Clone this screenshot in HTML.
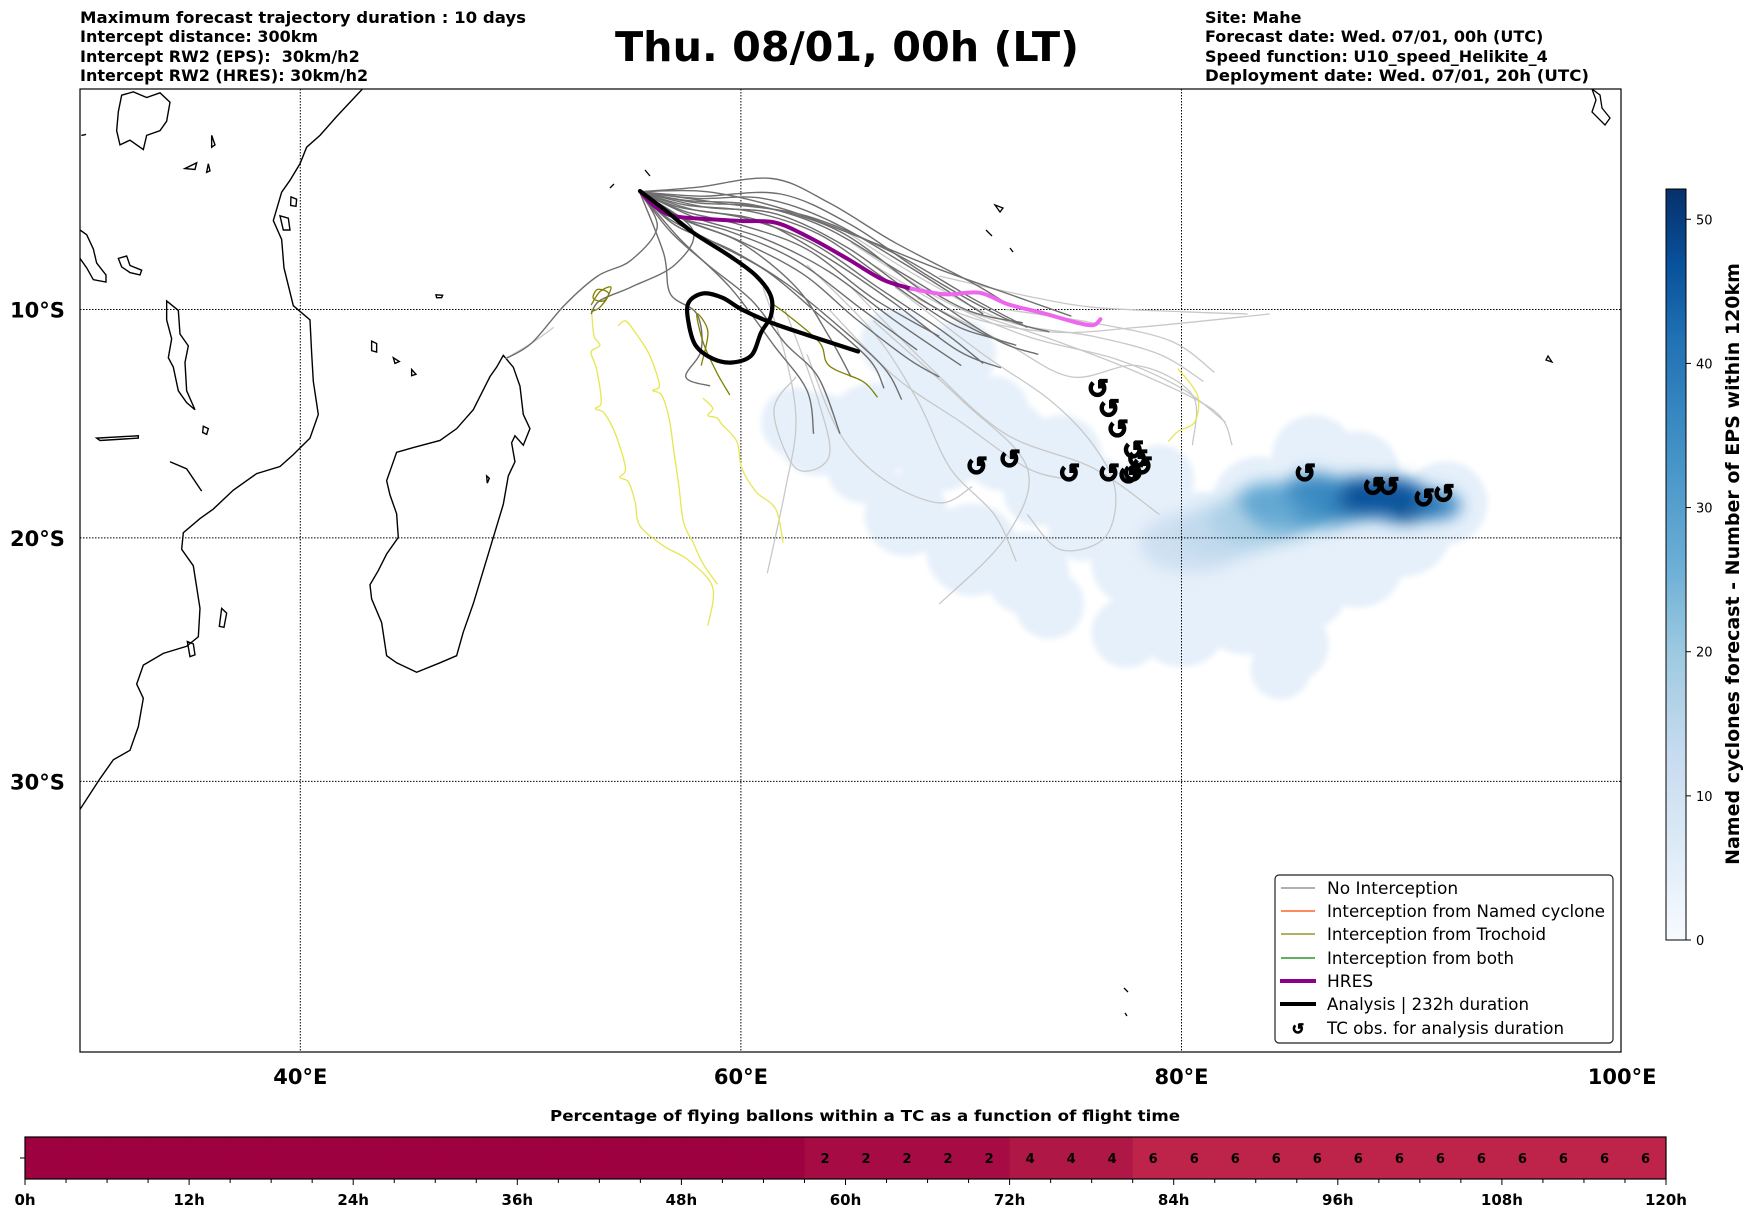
<!DOCTYPE html>
<html><head><meta charset="utf-8"><style>
html,body{margin:0;padding:0;background:#fff;}
svg{display:block;font-family:"DejaVu Sans","Liberation Sans",sans-serif;}
</style></head><body>
<svg id="fig" width="1752" height="1213" viewBox="0 0 1752 1213" xmlns="http://www.w3.org/2000/svg">
<defs>
<filter id="soft" x="-10%" y="-10%" width="120%" height="120%"><feGaussianBlur stdDeviation="3"/></filter>
<filter id="soft2" x="-20%" y="-20%" width="140%" height="140%"><feGaussianBlur stdDeviation="8"/></filter>
<clipPath id="mapclip"><rect x="80" y="89" width="1541" height="963"/></clipPath>
<linearGradient id="blues" x1="0" y1="1" x2="0" y2="0">
<stop offset="0" stop-color="#f7fbff"/><stop offset="0.12" stop-color="#deebf7"/><stop offset="0.25" stop-color="#c6dbef"/><stop offset="0.38" stop-color="#9ecae1"/><stop offset="0.5" stop-color="#6baed6"/><stop offset="0.65" stop-color="#4292c6"/><stop offset="0.8" stop-color="#2171b5"/><stop offset="0.9" stop-color="#08519c"/><stop offset="1" stop-color="#08306b"/>
</linearGradient>
</defs>
<g font-weight="bold" font-size="16" fill="#000">
<text x="80" y="23" textLength="446" lengthAdjust="spacingAndGlyphs">Maximum forecast trajectory duration : 10 days</text>
<text x="80" y="42">Intercept distance: 300km</text>
<text x="80" y="62" xml:space="preserve">Intercept RW2 (EPS):  30km/h2</text>
<text x="80" y="81">Intercept RW2 (HRES): 30km/h2</text>
</g>
<text x="615" y="61" font-size="41" font-weight="bold" textLength="464" lengthAdjust="spacingAndGlyphs">Thu. 08/01, 00h (LT)</text>
<g font-weight="bold" font-size="16" fill="#000">
<text x="1205" y="23">Site: Mahe</text>
<text x="1205" y="42">Forecast date: Wed. 07/01, 00h (UTC)</text>
<text x="1205" y="62">Speed function: U10_speed_Helikite_4</text>
<text x="1205" y="81" textLength="384" lengthAdjust="spacingAndGlyphs">Deployment date: Wed. 07/01, 20h (UTC)</text>
</g>

<g id="map" clip-path="url(#mapclip)">
<rect x="80" y="89" width="1541" height="963" fill="#fff"/>
<g id="heat"></g>
<g transform="translate(80,88.1) scale(0.3333,0.473)" fill="none" stroke="#000" stroke-width="1.4" vector-effect="non-scaling-stroke">
<path vector-effect="non-scaling-stroke" d="M850,0 L770,60 L720,100 L680,125 L660,160 L630,195 L605,220 L580,280 L605,320 L612,380 L640,460 L690,490 L695,560 L700,620 L715,690 L690,740 L640,775 L600,800 L530,815 L460,850 L400,890 L360,910 L310,940 L305,975 L340,1010 L360,1100 L355,1160 L320,1180 L250,1195 L190,1220 L170,1260 L190,1290 L175,1350 L150,1400 L100,1420 L60,1460 L0,1525"/>
<path vector-effect="non-scaling-stroke" d="M1270,565 L1300,590 L1320,630 L1330,690 L1350,720 L1330,755 L1305,735 L1295,750 L1305,790 L1285,820 L1270,880 L1240,950 L1210,1020 L1180,1090 L1150,1150 L1130,1200 L1080,1215 L1010,1235 L950,1215 L920,1200 L905,1130 L875,1080 L870,1050 L895,1020 L920,985 L955,950 L950,900 L930,860 L920,830 L950,770 L1000,760 L1080,745 L1130,720 L1180,680 L1230,610 L1250,590 Z"/>
<path vector-effect="non-scaling-stroke" d="M260,450 L295,470 L300,520 L325,545 L315,580 L320,640 L345,680 L320,665 L295,640 L280,590 L265,570 L275,530 L260,490 Z"/>
<path vector-effect="non-scaling-stroke" d="M0,300 L20,310 L40,340 L50,370 L78,395 L78,410 L40,405 L20,380 L0,360"/>
<path vector-effect="non-scaling-stroke" d="M125,15 L160,8 L200,20 L240,10 L270,30 L260,70 L240,90 L200,100 L190,130 L150,110 L120,120 L110,90 L115,50 Z"/>
<path vector-effect="non-scaling-stroke" d="M115,360 L140,355 L150,375 L185,385 L180,395 L150,390 L125,378 Z"/>
<path vector-effect="non-scaling-stroke" d="M50,740 L175,735 L175,740 L60,745 Z M270,790 L320,805 L365,852"/>
<path vector-effect="non-scaling-stroke" d="M315,170 L350,158 L345,172 Z M395,100 L405,120 L395,125 Z M385,160 L390,175 L380,178 Z M600,270 L625,275 L630,300 L610,300 Z M633,230 L650,235 L648,250 L632,248 Z M875,535 L890,540 L890,558 L875,555 Z M940,570 L958,578 L945,582 Z M995,595 L1008,605 L995,608 Z M425,1100 L440,1110 L432,1140 L418,1138 Z M322,1170 L340,1175 L345,1198 L330,1202 Z M370,715 L385,720 L380,732 L368,728 Z"/>
<path vector-effect="non-scaling-stroke" d="M1068,437 L1088,438 L1085,443 L1070,443 Z M4,100 L18,98 M1220,820 L1228,825 L1222,835 Z"/>
</g>
<g fill="none" stroke="#000" stroke-width="1.3">
<path d="M1592,89 L1596,100 L1592,112 L1605,125 L1610,118 L1602,108 L1600,95 Z"/>
<path d="M1548,356 L1552,362 L1546,360 Z"/>
<path d="M1124,988 L1128,992 M1125,1013 L1127,1016"/>
<path d="M995,205 L1003,208 L1000,212 Z M986,230 L992,236 M1010,248 L1013,252 M645,170 L650,176 M610,188 L614,184"/>
</g>
<g id="grid"></g>
<g id="tracks"></g>
<g id="tcobs"></g>
</g>
<rect x="80" y="89" width="1541" height="963" fill="none" stroke="#000" stroke-width="1.2"/>
<g id="axlabels" font-weight="bold" font-size="21"></g>

<g>
<rect x="1275" y="875" width="338" height="168" rx="4" fill="#fff" stroke="#222" stroke-width="1.2"/>
<g font-size="17" fill="#000">
<line x1="1281" y1="888" x2="1315" y2="888" stroke="#808080" stroke-width="1.3"/><text x="1327" y="894">No Interception</text>
<line x1="1281" y1="911" x2="1315" y2="911" stroke="#ff4500" stroke-width="1.3"/><text x="1327" y="917" textLength="278" lengthAdjust="spacingAndGlyphs">Interception from Named cyclone</text>
<line x1="1281" y1="934" x2="1315" y2="934" stroke="#808000" stroke-width="1.3"/><text x="1327" y="940" textLength="219" lengthAdjust="spacingAndGlyphs">Interception from Trochoid</text>
<line x1="1281" y1="958" x2="1315" y2="958" stroke="#008000" stroke-width="1.3"/><text x="1327" y="964" textLength="187" lengthAdjust="spacingAndGlyphs">Interception from both</text>
<line x1="1280" y1="981" x2="1316" y2="981" stroke="#8b008b" stroke-width="4"/><text x="1327" y="987">HRES</text>
<line x1="1280" y1="1004" x2="1316" y2="1004" stroke="#000" stroke-width="4"/><text x="1327" y="1010" textLength="202" lengthAdjust="spacingAndGlyphs">Analysis | 232h duration</text>
<text x="1298" y="1034" font-size="15" font-weight="bold" text-anchor="middle" stroke="#000" stroke-width="0.8">↺</text><text x="1327" y="1034" textLength="237" lengthAdjust="spacingAndGlyphs">TC obs. for analysis duration</text>
</g>
</g>

<g id="cbar">
<rect x="1666" y="189" width="20" height="751" fill="url(#blues)" stroke="#000" stroke-width="1"/>
<text transform="translate(1739,564) rotate(-90)" text-anchor="middle" font-weight="bold" font-size="19">Named cyclones forecast - Number of EPS within 120km</text>
</g>

<g id="pbar">
<text x="865" y="1121" text-anchor="middle" font-weight="bold" font-size="15.5" textLength="630" lengthAdjust="spacingAndGlyphs">Percentage of flying ballons within a TC as a function of flight time</text>
</g>

<script>
// ---------- data ----------
const lonTicks = [40, 60, 80, 100];
const latTicks = [10, 20, 30];
const cbarTicks = [0, 10, 20, 30, 40, 50];
const cbarMax = 52.1;
// TC observation positions (lon E, lat S)
const tcLon = [76.2, 76.7, 77.1, 77.8, 78.0, 78.2, 77.8, 77.6, 76.7, 74.9, 72.2, 70.7, 85.6, 88.7, 89.4, 91.0, 91.9];
const tcLat = [13.5, 14.4, 15.3, 16.2, 16.6, 16.9, 17.2, 17.3, 17.2, 17.2, 16.6, 16.9, 17.2, 17.8, 17.8, 18.3, 18.1];
// density blobs (lon, lat, radius deg)
const blobLon = [63.5,66,68.5,70,69,72,74.5,67.5,70.5,73,74,76,78,79,81,83,80,77.5,85,85.5,88,90,92,86,83.5,88,84.5,79,71.5,75.5,65.5,62.5,67,73.5];
const blobLat = [15.5,15.3,13,12,16,16,16.5,19,20.5,21.5,22.8,18.5,21,17.5,20.5,22.5,23.5,24,24.5,22,21,19.5,18.5,16.5,18.5,17.2,25.5,19.5,14.5,19.5,17,15,11.5,18];
const blobR   = [1.8,2,2,1.5,2,2,1.8,1.8,2,1.8,1.5,2,2,1.5,2.5,2.5,2,1.5,1.6,2,2,2.2,1.8,1.8,2,1.8,1.3,1.5,1.5,1.5,1.5,1.5,1.5,1.5];
const coreLon = [80.5, 82, 83.5, 85, 86.5, 88, 90, 88.5, 90.5, 84, 91.5, 86, 89.5];
const coreLat = [20.2, 19.7, 19.2, 18.8, 18.5, 18.3, 18.5, 18.2, 18.6, 18.4, 18.6, 17.9, 18.1];
const coreR   = [1.6, 1.5, 1.5, 1.4, 1.3, 1.2, 1.1, 0.9, 0.8, 1.0, 0.8, 0.9, 0.9];
const coreVal = [12, 14, 18, 26, 34, 40, 42, 48, 50, 28, 40, 36, 46];
// flight-time bar
const barHours = [0,3,6,9,12,15,18,21,24,27,30,33,36,39,42,45,48,51,54,57,60,63,66,69,72,75,78,81,84,87,90,93,96,99,102,105,108,111,114,117];
const barPct   = [0,0,0,0,0,0,0,0,0,0,0,0,0,0,0,0,0,0,0,2,2,2,2,2,4,4,4,6,6,6,6,6,6,6,6,6,6,6,6,6];
const barTickHours = [0,12,24,36,48,60,72,84,96,108,120];
// trajectories [lon, lat S]
const hresTrack = [[55.42,4.67],[56.08,5.35],[56.96,5.8],[58.72,5.95],[60.04,6.02],[61.58,6.1],[63.12,6.77],[64.88,7.75],[66.42,8.65],[67.74,9.07]];
const hresTrack2 = [[67.74,9.07],[69.28,9.32],[70.82,9.25],[72.14,9.77],[73.68,10.15],[75.22,10.58],[75.99,10.7],[76.32,10.44]];
const analysisTrack = [[55.42,4.67],[56.52,5.5],[57.84,6.55],[59.6,7.67],[60.7,8.5],[61.36,9.4],[61.36,10.29],[60.92,11.02],[60.48,12.04],[59.6,12.36],[58.72,12.19],[57.95,11.61],[57.62,10.58],[57.62,9.7],[58.28,9.28],[59.16,9.47],[60.04,10.0],[61.36,10.58],[63.12,11.17],[65.32,11.87]];
const darkTracks = [
 [[55.4,4.7],[58,4.5],[61.4,4.1],[64,5.2],[67,7],[70.5,8.8],[72,9.7]],
 [[55.4,4.7],[58,5.0],[61,5.0],[64,6],[67.5,8],[71,10.2]],
 [[55.4,4.7],[57.5,5.3],[60.5,5.6],[63.5,6.6],[66.5,8.6],[69.5,10.6],[71.5,11.3]],
 [[55.4,4.7],[57.5,5.6],[60,6.2],[63,7.3],[66,9.5],[69,11.2]],
 [[55.4,4.7],[57,5.8],[59.5,6.5],[62.5,7.8],[65.5,10],[68,11.8]],
 [[55.4,4.7],[57,6.2],[59.5,7.3],[62,8.8],[64.5,10.8],[66.5,12.6],[67.3,14]],
 [[55.4,4.7],[56.8,6.5],[58.5,8],[60.5,9.6],[62,11.5],[63.5,13],[64.5,15.5]],
 [[55.4,4.7],[58.5,4.7],[62,5.5],[65.5,6.8],[69,8.2],[73,9.6],[75,10.3]],
 [[55.4,4.7],[58,5.2],[61,5.4],[64.5,6.5],[68,9],[71.5,11.3],[73.5,12]],
 [[55.4,4.7],[57.5,6],[60,7],[62.5,9],[64,11.2],[65,13]],
 [[55.4,4.7],[58,5.9],[61,6.8],[64,8.3],[67,10.5],[70,12.5]],
 [[55.4,4.7],[59,5.2],[63,5.8],[67,7.5],[70.5,9.5],[73,10.8]],
 [[55.4,4.7],[58.2,4.9],[61.8,4.8],[65,6.2],[68.5,8.5],[72,10.4],[74,11]],
 [[55.4,4.7],[57.2,5.4],[60.2,5.9],[63.2,7],[66.2,9],[69.2,11],[71,12.4]],
 [[55.4,4.7],[56.7,5.9],[58.8,7],[61.2,8.3],[63.5,10.2],[65.8,12.2],[66.5,13.5]],
 [[55.4,4.7],[57.8,5.5],[60.8,6.0],[63.8,7.6],[66.8,9.6],[69.8,11.8],[71.8,12.6]],
 [[55.4,4.7],[58.4,5.4],[61.6,5.7],[64.8,7.2],[67.8,9.3],[70.8,11.0],[72.5,11.6]],
 [[55.4,4.7],[57.6,5.1],[60.6,5.3],[63.8,6.3],[67.2,8.3],[70.2,10.0],[72.8,10.6]],
 [[55.4,4.7],[57.3,5.9],[59.9,6.9],[62.8,8.4],[65.2,10.4],[67.6,12.2],[69,13]],
 [[55.4,4.7],[56.2,6.3],[55,7.8],[53.5,8.5],[52,9.8],[50.5,11.5],[49.3,12.2]],
 [[55.4,4.7],[56.5,7.5],[56.8,9.3],[58,10.2],[58.2,11.8],[57.5,13],[58.6,13.4]],
 [[55.4,4.7],[57.8,6.4],[57,8],[55,9],[53.6,9.6],[53.2,10.2]],
 [[55.4,4.7],[57.2,6.8],[59.5,9],[61.5,11.6],[63,13.6],[63.3,15.5]]
];
const lightTracks = [
 [[64,6],[68,8.5],[72,10.5],[76,11.2],[79,12],[81,13.2]],
 [[65,7],[69,9.5],[73,11.2],[77,12.2],[80,13.5],[82,15]],
 [[66,8],[70,10.2],[74,11],[78,10.8],[84,10.2]],
 [[63,8],[66,11],[68,14],[69.5,17],[71.5,19],[72.5,21]],
 [[61,9],[62,12],[62.5,15],[62,18],[61.2,21.5]],
 [[64,10],[67,13],[70,15],[73,17],[75,17.5]],
 [[67,9],[71,12],[74,14],[76,16],[77,18],[76.5,20],[74.5,20.5],[73,19]],
 [[62,10],[63.5,14],[64,16.5],[62.5,17],[61.5,14.5],[62.5,13]],
 [[66,10.5],[70,14],[73,17],[72,20],[69,22.8]],
 [[68,9.5],[72,11.5],[75,13],[78,12.5],[80.5,13.8],[80.5,16]],
 [[70,10],[74,11.3],[78,12.8],[81.5,14.5],[82.3,16]],
 [[65,9],[68.5,12.5],[72,15.5],[76,17],[79,19]],
 [[69,8.5],[73,9.4],[76,9.9],[80,10.1],[83,10.2]],
 [[72,10],[76,10.6],[79.5,11.4],[81.5,12.8]],
 [[63,12],[64.5,15.5],[66.5,17.5],[69,18.5],[70.5,17.8]],
 [[51.5,10.8],[50.5,11.5],[49.3,12.2]]
];
const oliveTracks = [
 [[53.2,9.8],[53.6,9.2],[54.1,9.0],[53.8,9.6],[53.3,9.5],[53.5,9.1],[54.0,9.3],[53.6,9.9],[53.2,10.1]],
 [[58.2,12.5],[58.5,11],[58.0,10.2],[58.3,11.5],[58.9,12.8],[59.5,13.8]],
 [[61.36,9.7],[62.0,10.15],[63.56,11.46],[64,12.5],[65.54,13.2],[66.2,13.9]]
];
const yellowTracks = [
 [[53.22,10.0],[53.33,11.17],[53.6,11.6],[53.2,11.9],[53.44,12.63],[53.66,14.09],[53.4,14.4],[53.8,14.6],[54.32,15.55],[54.76,17.0],[54.5,17.4],[54.9,17.6],[55.2,18.47],[55.42,19.49],[56.52,20.36],[57.62,20.95],[58.72,22.1],[58.5,23.7]],
 [[54.43,10.73],[54.76,10.51],[55.2,11.02],[55.86,12.04],[56.3,13.36],[56.0,13.6],[56.4,13.8],[56.74,14.82],[56.96,16.28],[57.18,17.74],[57.4,19.34],[57.84,20.22],[58.28,21.1],[58.94,21.97]],
 [[58.28,13.94],[58.72,14.38],[58.5,14.7],[58.9,14.8],[59.16,15.11],[59.82,15.84],[60.04,17.0],[60.7,18.03],[61.58,18.76],[61.91,20.2]],
 [[79.84,12.63],[80.72,13.8],[80.61,14.97],[79.84,15.4],[79.4,15.84]]
];

// ---------- axes ----------
const NS = 'http://www.w3.org/2000/svg';
function X(lon){ return 80 + (lon - 30) * 22.03; }
function merc(lat){ return Math.log(Math.tan(Math.PI/4 + lat*Math.PI/360)); }
function Y(latS){ return 309.5 + (merc(latS) - merc(10)) * 1262; }
function mk(tag, attrs, parent){ const e = document.createElementNS(NS, tag); for (const k in attrs) e.setAttribute(k, attrs[k]); parent.appendChild(e); return e; }
function smooth(pts){
  const p = pts.map(q => [X(q[0]), Y(q[1])]);
  let d = 'M' + p[0][0].toFixed(1) + ',' + p[0][1].toFixed(1);
  for (let i = 0; i < p.length - 1; i++){
    const p0 = p[i-1] || p[i], p1 = p[i], p2 = p[i+1], p3 = p[i+2] || p2;
    const c1 = [p1[0] + (p2[0]-p0[0])/6, p1[1] + (p2[1]-p0[1])/6];
    const c2 = [p2[0] - (p3[0]-p1[0])/6, p2[1] - (p3[1]-p1[1])/6];
    d += ' C' + c1.map(v=>v.toFixed(1)).join(',') + ' ' + c2.map(v=>v.toFixed(1)).join(',') + ' ' + p2.map(v=>v.toFixed(1)).join(',');
  }
  return d;
}
function blues(v){
  const stops = [[0,[247,251,255]],[6,[222,235,247]],[13,[198,219,239]],[20,[158,202,225]],[26,[107,174,214]],[34,[66,146,198]],[42,[33,113,181]],[47,[8,81,156]],[52,[8,48,107]]];
  for (let i = 0; i < stops.length - 1; i++){
    if (v <= stops[i+1][0]){ const t = (v - stops[i][0]) / (stops[i+1][0] - stops[i][0]); const a = stops[i][1], b = stops[i+1][1];
      return 'rgb(' + a.map((c,j)=>Math.round(c + (b[j]-c)*t)).join(',') + ')'; }
  }
  return 'rgb(8,48,107)';
}

// heat map
const heat = document.getElementById('heat');
const hl = mk('g', {filter: 'url(#soft)'}, heat);


blobLon.forEach((lo, i) => {
  const c = mk('circle', {cx: X(lo), cy: Y(blobLat[i]), r: blobR[i]*22.03*1.05, fill: blues(4)}, hl);
  
  
});
const hc = mk('g', {filter: 'url(#soft2)'}, heat);


coreLon.forEach((lo, i) => {
  const c = mk('ellipse', {cx: X(lo), cy: Y(coreLat[i]), rx: coreR[i]*22.03*1.5, ry: coreR[i]*22.03*0.85, fill: blues(coreVal[i]), opacity: 0.85}, hc);
  
  
});

// graticule
const grid = document.getElementById('grid');
lonTicks.forEach(lo => {
  const l = mk('line', {x1: X(lo), x2: X(lo), y1: 89, y2: 1052, stroke: '#000', 'stroke-width': 1, 'stroke-dasharray': '1.5,1.5'}, grid);
  
  
});
latTicks.forEach(la => {
  const l = mk('line', {x1: 80, x2: 1621, y1: Y(la), y2: Y(la), stroke: '#000', 'stroke-width': 1, 'stroke-dasharray': '1.5,1.5'}, grid);
  
  
});
const axl = document.getElementById('axlabels');
lonTicks.forEach(lo => {
  const t = mk('text', {x: X(lo), y: 1084, 'text-anchor': 'middle'}, axl);
  t.textContent = lo + '°E';
  
  
});
latTicks.forEach(la => {
  const t = mk('text', {x: 10, y: Y(la) + 8}, axl);
  t.textContent = la + '°S';
  
  
});

// tracks
const tr = document.getElementById('tracks');
lightTracks.forEach(t => {
  const p = mk('path', {d: smooth(t), fill: 'none', stroke: '#c8c8c8', 'stroke-width': 1.3}, tr);
  
  
});
yellowTracks.forEach(t => {
  const p = mk('path', {d: smooth(t), fill: 'none', stroke: '#e6e650', 'stroke-width': 1.3}, tr);
  
  
});
darkTracks.forEach(t => {
  const p = mk('path', {d: smooth(t), fill: 'none', stroke: '#6e6e6e', 'stroke-width': 1.4}, tr);
  
  
});
oliveTracks.forEach(t => {
  const p = mk('path', {d: smooth(t), fill: 'none', stroke: '#808000', 'stroke-width': 1.3}, tr);
  
  
});
const ph = mk('path', {d: smooth(hresTrack), fill: 'none', stroke: '#8b008b', 'stroke-width': 4, 'stroke-linecap': 'round'}, tr);


const ph2 = mk('path', {d: smooth(hresTrack2), fill: 'none', stroke: '#ee66ee', 'stroke-width': 4, 'stroke-linecap': 'round'}, tr);


const pa = mk('path', {d: smooth(analysisTrack), fill: 'none', stroke: '#000', 'stroke-width': 4.2, 'stroke-linecap': 'round', 'stroke-linejoin': 'round'}, tr);



// TC obs
const tco = document.getElementById('tcobs');
tcLon.forEach((lo, i) => {
  const t = mk('text', {x: X(lo), y: Y(tcLat[i]) + 9, 'text-anchor': 'middle', 'font-size': 26, 'font-weight': 'bold', stroke: '#000', 'stroke-width': 1.4}, tco);
  t.textContent = '↺';
  
  
});

// colorbar ticks
const cb = document.getElementById('cbar');
cbarTicks.forEach(v => {
  const y = 940 - v / cbarMax * 751;
  mk('line', {x1: 1686, x2: 1691, y1: y, y2: y, stroke: '#000', 'stroke-width': 1}, cb);
  const t = mk('text', {x: 1696, y: y + 5, 'font-size': 13}, cb);
  t.textContent = v;
  
  
});

// flight time bar
const pb = document.getElementById('pbar');
const hx = h => 25 + h * 13.675;
const pctColor = { 0: '#9e013f', 2: '#a60c43', 4: '#af1746', 6: '#be2349' };
barHours.forEach((h, i) => {
  const r = mk('rect', {x: hx(h), y: 1137, width: 3*13.675 + 0.5, height: 42, fill: pctColor[barPct[i]]}, pb);
  
  
  if (barPct[i] > 0){
    const t = mk('text', {x: hx(h + 1.5), y: 1163, 'text-anchor': 'middle', 'font-size': 13, 'font-weight': 'bold'}, pb);
    t.textContent = barPct[i];
    
    
  }
});
mk('rect', {x: 25, y: 1137, width: hx(120) - 25, height: 42, fill: 'none', stroke: '#000', 'stroke-width': 1.2}, pb);
mk('line', {x1: 20, x2: 25, y1: 1158, y2: 1158, stroke: '#000', 'stroke-width': 1}, pb);
for (let h = 0; h <= 120; h += 3){
  mk('line', {x1: hx(h), x2: hx(h), y1: 1179, y2: 1179 + (h % 12 === 0 ? 6 : 4), stroke: '#000', 'stroke-width': 1}, pb);
}
barTickHours.forEach(h => {
  const t = mk('text', {x: hx(h), y: 1205, 'text-anchor': 'middle', 'font-size': 15, 'font-weight': 'bold'}, pb);
  t.textContent = h + 'h';
  
  
});
</script>
</svg>
</body></html>
